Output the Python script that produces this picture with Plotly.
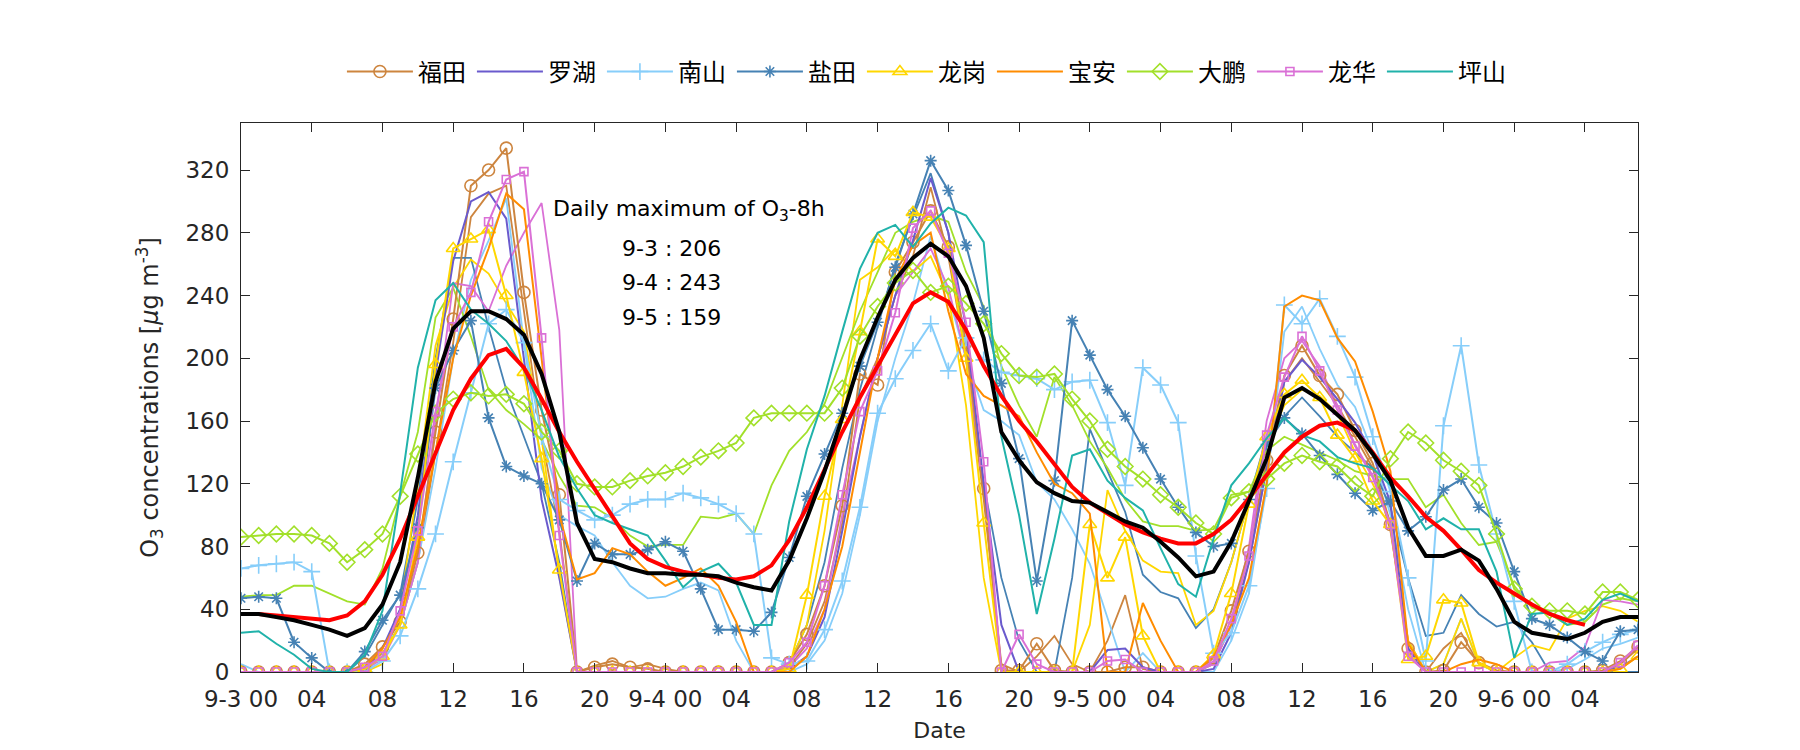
import plotly.graph_objects as go

# ---------------- data ----------------
hours = list(range(80))
tick_vals = list(range(0, 80, 4))
tick_text = ["9-3 00", "04", "08", "12", "16", "20", "9-4 00", "04", "08", "12", "16", "20",
             "9-5 00", "04", "08", "12", "16", "20", "9-6 00", "04"]
y_ticks = list(range(0, 321, 40))

futian = [0,0,0,0,0,0,0,5,16,32, 76,153,225,310,320,334,242,167,113,0, 3,5,3,2,0,0,0,0,0,0,
          0,6,24,55,106,190,183,255,274,294, 271,210,117,1,1,18,1,0,0,0, 3,3,0,0,0,9,39,77,135,189,
          208,189,177,154,133,94,15,0,1,19, 6,1,0,0,0,0,0,1,7,16]
futian_b = [0,0,0,0,0,0,0,3,12,30, 70,140,210,290,305,310,230,150,90,0, 4,7,3,5,2,0,0,0,0,0,
            0,3,18,45,95,175,200,240,265,309, 265,200,110,5,0,10,23,5,0,20, 49,2,0,0,0,5,30,70,130,185,
            200,185,170,150,130,90,20,0,15,25, 5,0,0,0,0,0,0,0,5,15]
luohu = [0,0,0,0,0,0,0,2,15,40, 100,190,262,300,306,289,200,110,60,0, 0,0,0,0,0,0,0,0,0,0,
         0,2,10,35,90,150,200,240,275,315, 280,220,120,30,0,0,0,0,0,14, 15,3,0,0,0,2,25,70,130,185,
         199,188,174,159,139,108,15,0,0,0, 0,0,0,0,0,0,0,0,3,10]
nanshan = [66,68,69,70,64,0,0,0,7,23, 53,88,134,178,222,231,210,150,110,103, 97,100,107,110,110,114,111,107,101,88,
           9,5,7,27,58,105,165,187,205,222, 192,213,199,191,189,187,180,185,186,159, 119,194,183,159,74,12,25,55,117,234,
           222,238,214,188,150,115,60,7,157,208, 132,88,45,0,0,5,13,19,24,27]
nanshan_b = [5,0,0,0,0,0,0,0,10,30, 70,130,200,250,275,302,210,130,100,93, 87,70,55,47,48,53,57,52,20,0,
             0,0,5,20,50,100,160,200,235,278, 240,200,167,160,151,121,110,91,69,34, 0,12,0,0,0,0,20,50,120,217,
             233,206,183,169,140,100,40,0,5,34, 5,0,0,0,0,2,8,15,18,22]
yantian = [47,48,47,19,9,0,0,13,33,49, 92,181,205,224,162,131,125,120,97,58, 82,75,75,78,83,77,53,27,27,26,
           38,73,112,139,165,195,223,258,292,326, 307,272,230,184,136,58,122,224,202,180, 163,143,123,105,89,80,82,110,145,162,
           152,138,126,114,103,109,90,99,116,123, 105,95,64,34,30,22,13,7,26,27]
yantian_b = [0,0,0,0,0,0,0,10,30,50, 110,200,264,264,220,180,150,120,70,0, 0,0,0,0,0,0,0,0,0,0,
             0,5,30,70,130,180,220,260,290,318, 280,200,120,60,20,0,0,60,155,128, 102,62,51,47,28,40,70,110,150,163,
             175,163,150,140,130,105,60,23,25,49, 37,29,32,19,0,0,0,0,0,0]
longgang = [0,0,0,0,0,0,0,2,10,30, 86,196,270,276,282,240,191,136,65,0, 0,0,0,0,0,0,0,0,0,0,
            0,2,49,112,161,217,276,265,293,290, 270,200,95,0,0,0,0,0,94,60, 86,23,0,0,0,11,50,107,150,177,
            186,175,151,136,109,94,8,10,46,44, 6,0,0,0,0,0,0,0,2,10]
longgang_b = [0,0,0,0,0,0,0,0,5,40, 120,208,245,263,254,235,217,149,61,0, 0,0,0,0,0,0,0,0,0,0,
              0,5,30,90,170,250,258,270,255,265, 240,170,60,0,0,0,0,0,30,116, 90,71,64,63,30,39,70,110,145,170,
              180,176,165,140,120,95,20,0,5,34, 5,0,9,17,14,34,39,42,39,32]
baoan = [0,0,0,0,0,0,0,3,15,35, 80,140,200,240,270,305,295,200,100,59, 63,79,75,64,55,60,66,55,32,0,
         0,0,10,40,80,140,200,250,272,280, 230,190,176,170,163,140,120,114,101,0, 0,44,20,0,0,10,30,60,120,233,
         240,237,213,198,166,128,18,0,0,5, 8,5,0,0,0,0,0,0,2,10]
dapeng = [86,87,88,88,87,82,70,78,88,112, 139,165,174,178,176,177,171,153,141,120, 118,118,122,125,127,131,137,141,146,162,
          165,165,165,165,181,214,233,248,256,242, 246,235,222,203,189,188,190,174,160,142, 131,123,113,105,95,88,111,115,123,133,
          138,134,131,120,112,136,153,146,135,128, 119,88,53,42,39,39,37,51,51,46]
dapeng_b = [48,49,49,55,55,50,45,43,66,112, 153,226,245,214,180,167,158,148,125,106, 105,98,87,80,81,81,99,98,101,88,
            119,141,153,171,200,230,255,280,287,291, 287,255,233,195,170,150,188,170,147,130, 110,96,93,93,90,91,113,115,141,150,
            145,140,135,128,125,123,123,105,113,95, 81,83,55,41,37,30,32,43,47,45]
longhua = [0,0,0,0,0,0,0,3,10,39, 90,166,220,242,287,314,319,213,87,0, 0,0,0,0,0,0,0,0,0,0,
           0,6,19,55,113,166,192,229,283,294, 267,223,134,0,24,5,0,0,0,7, 8,0,0,0,0,7,34,74,151,188,
           214,192,167,144,124,94,10,0,0,0, 0,0,0,0,0,0,0,0,6,17]
longhua_b = [0,0,0,0,0,0,0,2,8,30, 70,160,248,246,230,259,280,299,218,0, 0,0,0,0,0,0,0,0,0,0,
             0,3,15,40,100,150,200,240,255,270, 245,200,120,0,0,0,0,0,0,0, 0,0,0,0,0,5,30,80,160,200,
             211,195,170,145,125,95,12,0,0,0, 0,0,0,0,6,7,16,46,45,43]
pingshan = [25,26,18,11,2,0,0,11,39,114, 194,237,248,231,222,211,193,167,137,117, 100,95,91,87,71,54,64,69,57,30,
            30,96,142,176,217,257,280,285,271,286, 296,291,274,150,100,37,85,138,142,122, 111,103,79,56,48,85,119,133,149,162,
            151,147,137,133,130,119,109,91,98,91, 91,64,9,37,38,30,34,46,50,45]
o3_8h = [37,37,36,35,34,33,36,45,62,85, 112,139,167,187,202,206,194,174,153,134, 117,99,82,72,67,64,62,60,59,61,
         68,84,105,129,153,175,195,215,235,242, 236,218,195,176,160,147,133,118,108,101, 94,89,85,82,82,88,97,111,126,140,
         150,157,159,154,140,124,112,99,90,78, 65,57,50,43,37,33,30]
city_mean = [37,37,35,33,30,27,23,28,43,70, 124,185,219,230,230,225,215,190,153,95, 72,70,66,63,63,62,62,61,57,54,
             52,71,98,128,162,199,226,250,264,273, 265,246,213,153,135,121,114,109,108,102, 96,92,83,73,61,64,83,109,136,175,
             181,174,164,154,139,122,92,74,74,78, 71,53,32,25,23,21,25,32,35,35]

daily_max_days = ["9-3", "9-4", "9-5"]
daily_max_vals = [206, 243, 159]

# ---------------- styles ----------------
C = {"福田": "#CD853F", "罗湖": "#6A5ACD", "南山": "#87CEFA", "盐田": "#4682B4", "龙岗": "#FFD700",
     "宝安": "#FF8C00", "大鹏": "#A2E02A", "龙华": "#DA70D6", "坪山": "#20B2AA"}

main_series = [
    ("福田", futian, "circle-open", 12),
    ("罗湖", luohu, None, 0),
    ("南山", nanshan, "cross-thin-open", 12),
    ("盐田", yantian, "asterisk-open", 10),
    ("龙岗", longgang, "triangle-up-open", 12),
    ("宝安", baoan, None, 0),
    ("大鹏", dapeng, "diamond-open", 12),
    ("龙华", longhua, "square-open", 8),
    ("坪山", pingshan, None, 0),
]
extra_series = [
    ("福田", futian_b), ("南山", nanshan_b), ("盐田", yantian_b), ("龙岗", longgang_b),
    ("大鹏", dapeng_b), ("龙华", longhua_b),
]

fig = go.Figure()

for name, vals in extra_series:
    fig.add_trace(go.Scatter(x=hours[:len(vals)], y=vals, mode="lines", showlegend=False,
                             legendgroup=name, line=dict(color=C[name], width=1.8), hoverinfo="skip"))

for name, vals, sym, size in main_series:
    if sym:
        fig.add_trace(go.Scatter(x=hours[:len(vals)], y=vals, mode="lines+markers", name=name,
                                 legendgroup=name, line=dict(color=C[name], width=2),
                                 marker=dict(symbol=sym, size=size, color=C[name],
                                             line=dict(color=C[name], width=1.6))))
    else:
        fig.add_trace(go.Scatter(x=hours[:len(vals)], y=vals, mode="lines", name=name,
                                 legendgroup=name, line=dict(color=C[name], width=2)))

fig.add_trace(go.Scatter(x=hours[:len(o3_8h)], y=o3_8h, mode="lines", showlegend=False,
                         line=dict(color="#FF0000", width=4)))
fig.add_trace(go.Scatter(x=hours[:len(city_mean)], y=city_mean, mode="lines", showlegend=False,
                         line=dict(color="#000000", width=4)))

FONT = "'DejaVu Sans', Verdana, sans-serif"
CJK = "'Noto Sans CJK SC', sans-serif"

fig.add_annotation(x=17.55, y=294, xref="x", yref="y", xanchor="left", yanchor="middle",
                   text="Daily maximum of O<sub>3</sub>-8h", showarrow=False,
                   font=dict(family=FONT, size=22, color="#000"))
for i, (d, v) in enumerate(zip(daily_max_days, daily_max_vals)):
    fig.add_annotation(x=24.35, y=270 - 22 * i, xref="x", yref="y", xanchor="center", yanchor="middle",
                       text=f"{d} : {v}", showarrow=False,
                       font=dict(family=FONT, size=22, color="#000"))

axis_common = dict(showline=True, linecolor="#262626", linewidth=1, mirror="ticks",
                   ticks="inside", ticklen=9, tickcolor="#262626", tickwidth=1,
                   showgrid=False, zeroline=False,
                   tickfont=dict(family=FONT, size=23, color="#262626"))

fig.update_layout(
    width=1800, height=750,
    plot_bgcolor="white", paper_bgcolor="white",
    margin=dict(l=233, r=170, t=115, b=86),
    xaxis=dict(range=[0, 79], tickvals=tick_vals, ticktext=tick_text,
               title=dict(text="Date", font=dict(family=FONT, size=22, color="#262626"), standoff=12),
               ticklabelstandoff=6, **axis_common),
    yaxis=dict(range=[0, 350], tickvals=y_ticks,
               title=dict(text="O<sub>3</sub> concentrations [<i>μ</i>g m<sup>-3</sup>]",
                          font=dict(family=FONT, size=24, color="#262626"), standoff=20),
               ticklabelstandoff=6, **axis_common),
    legend=dict(orientation="h", x=0.491, xanchor="center", y=1.093, yanchor="middle",
                font=dict(family=CJK, size=24, color="#000"), itemwidth=66,
                entrywidth=49, entrywidthmode="pixels",
                bgcolor="rgba(0,0,0,0)"),
    showlegend=True,
)

fig.write_html("out.html")
